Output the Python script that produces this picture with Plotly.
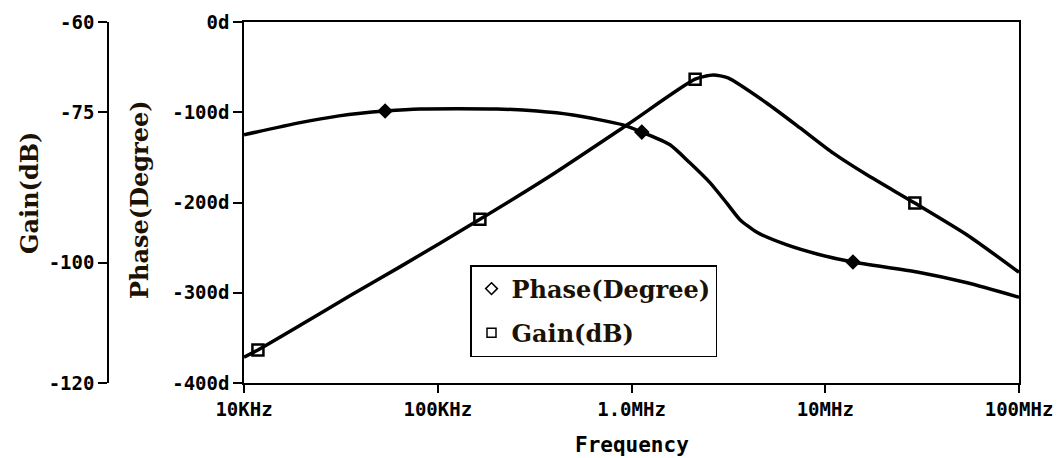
import plotly.graph_objects as go

# Phase response (degrees) versus frequency (Hz)
freq_phase = [1.0e4, 1.95e4, 3.09e4, 4.0e4, 5.35e4, 8.1e4, 2.02e5, 3.25e5, 4.99e5, 9.04e5,
              1.13e6, 1.58e6, 2.0e6, 2.54e6, 3.11e6, 3.63e6, 4.44e6, 6.35e6, 9.07e6,
              1.39e7, 2.98e7, 5.4e7, 1.0e8]
phase_deg = [-125, -111.5, -104, -101, -98.6, -96.4, -96.4, -98.6, -103, -114,
             -122, -136, -156, -178, -201, -219, -233, -247, -257,
             -266, -277, -289, -305]
phase_marks = [4, 10, 19]

# Gain response (dB) versus frequency (Hz)
freq_gain = [1.0e4, 1.18e4, 1.95e4, 3.52e4, 6.38e4, 1.65e5, 3.8e5, 9.59e5, 2.13e6,
             2.64e6, 3.15e6, 5.0e6, 7.41e6, 1.1e7, 1.64e7, 2.9e7, 5.4e7, 1.0e8]
gain_db = [-115.7, -114.5, -110.4, -105.5, -100.7, -92.8, -85.6, -77.0, -69.5,
           -68.8, -69.3, -73.5, -77.6, -81.8, -85.4, -90.1, -95.4, -101.6]
gain_marks = [1, 5, 8, 15]

# Axis ticks
freq_ticks = [1e4, 1e5, 1e6, 1e7, 1e8]
freq_labels = ["10KHz", "100KHz", "1.0MHz", "10MHz", "100MHz"]
phase_ticks = [0, -100, -200, -300, -400]
phase_labels = ["0d", "-100d", "-200d", "-300d", "-400d"]
gain_ticks = [-60, -75, -100, -120]
gain_labels = ["-60", "-75", "-100", "-120"]

W, H = 1063, 458
TICK_FONT = dict(family="DejaVu Sans Mono", size=19, color="black", weight="bold")
SERIF = dict(family="DejaVu Serif", size=24, color="#1c1204", weight="bold")

fig = go.Figure()

# Curves
fig.add_trace(go.Scatter(x=freq_phase, y=phase_deg, mode="lines",
                         line=dict(color="black", width=3.5, shape="spline", smoothing=0.6),
                         showlegend=False, yaxis="y"))
fig.add_trace(go.Scatter(x=freq_gain, y=gain_db, mode="lines",
                         line=dict(color="black", width=3.5, shape="spline", smoothing=0.6),
                         showlegend=False, yaxis="y2"))

# Point markers on the curves
fig.add_trace(go.Scatter(x=[freq_phase[i] for i in phase_marks],
                         y=[phase_deg[i] for i in phase_marks], mode="markers",
                         marker=dict(symbol="diamond", size=12, color="black"),
                         showlegend=False, yaxis="y"))
fig.add_trace(go.Scatter(x=[freq_gain[i] for i in gain_marks],
                         y=[gain_db[i] for i in gain_marks], mode="markers",
                         marker=dict(symbol="square-open", size=11, color="black",
                                     line=dict(width=2.5, color="black")),
                         showlegend=False, yaxis="y2"))

# Legend entries
fig.add_trace(go.Scatter(x=[None], y=[None], mode="markers", name="Phase(Degree)",
                         marker=dict(symbol="diamond-open", size=9, color="black",
                                     line=dict(width=1.5, color="black")),
                         legendgroup="a"))
fig.add_trace(go.Scatter(x=[None], y=[None], mode="markers", name="Gain(dB)",
                         marker=dict(symbol="square-open", size=9, color="black",
                                     line=dict(width=1.5, color="black")),
                         legendgroup="b"))

x0, x1 = 244 / W, 1019 / W
top, bottom = 22, 383
ph = bottom - top


def py(y):
    return 1 - (y - top) / ph


axis_common = dict(showline=True, linecolor="black", linewidth=1.5, ticks="outside",
                   tickcolor="black", tickwidth=1.5, showgrid=False, zeroline=False,
                   tickfont=TICK_FONT, automargin=False)

fig.update_layout(
    width=W, height=H,
    margin=dict(l=0, r=0, t=top, b=H - bottom, autoexpand=False),
    paper_bgcolor="white", plot_bgcolor="white",
    xaxis=dict(domain=[x0, x1], type="log", range=[4, 8], tickmode="array",
               tickvals=freq_ticks, ticktext=freq_labels, ticklen=8, mirror=True,
               **axis_common),
    yaxis=dict(range=[-400, 0], tickmode="array", tickvals=phase_ticks,
               ticktext=phase_labels, ticklen=9, mirror=True, anchor="x",
               **axis_common),
    yaxis2=dict(range=[-120, -60], tickmode="array", tickvals=gain_ticks,
                ticktext=gain_labels, ticklen=9, overlaying="y", anchor="free",
                position=108 / W, side="left", **axis_common),
    legend=dict(x=470 / W, y=py(265), xanchor="left", yanchor="top",
                bordercolor="black", borderwidth=1.5, bgcolor="white",
                font=SERIF, traceorder="grouped", tracegroupgap=10, itemwidth=30),
    showlegend=True,
    annotations=[
        dict(text="Gain(dB)", x=30 / W, y=py(193), xref="paper", yref="paper",
             xanchor="center", yanchor="middle",
             textangle=-90, showarrow=False, font=SERIF),
        dict(text="Phase(Degree)", x=140 / W, y=py(200), xref="paper", yref="paper",
             xanchor="center", yanchor="middle",
             textangle=-90, showarrow=False, font=SERIF),
        dict(text="Frequency", x=(x0 + x1) / 2, y=py(445), xref="paper", yref="paper",
             xanchor="center", yanchor="middle", showarrow=False,
             font=dict(family="DejaVu Sans Mono", size=21, color="black", weight="bold")),
    ],
)

fig.write_html("out.html")
